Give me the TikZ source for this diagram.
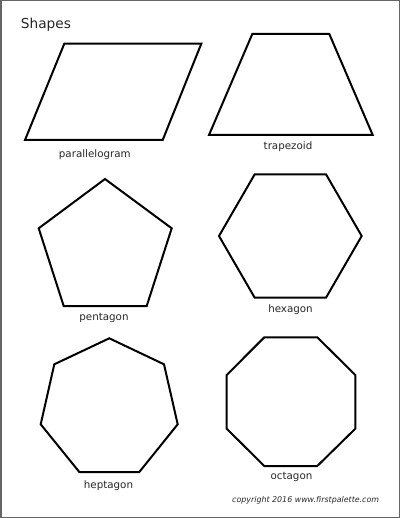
\documentclass[tikz,border=0pt]{standalone}
\usepackage{fontspec}
\setmainfont{DejaVu Sans}
\begin{document}
\begin{tikzpicture}[x=1pt,y=-1pt,
  shapeline/.style={draw=black,line width=2pt,line join=miter},
  label/.style={inner sep=0pt,anchor=base,font=\fontsize{10.3}{12}\selectfont,text=black!85},
  frame/.style={draw=black!60,line width=1.5pt}]
\useasboundingbox (0,0) rectangle (400,518);
\draw[frame] (0.75,0.75) rectangle (399.25,517.25);
\node[inner sep=0pt,anchor=base west,font=\fontsize{13.7}{16}\selectfont,text=black!85] (title) at (20.7,28.5) {Shapes};
% parallelogram
\draw[shapeline] (64.3,43.7) -- (201.3,43.7) -- (162.7,140) -- (25,140) -- cycle;
\node[label] (lpar) at (94.8,158) {parallelogram};
% trapezoid
\draw[shapeline] (252.3,34) -- (329.3,34) -- (372.7,135) -- (209,135) -- cycle;
\node[label] (ltrap) at (288,149.5) {trapezoid};
% pentagon
\draw[shapeline] (105,179) -- (171.7,228.3) -- (146.7,306) -- (63.7,306) -- (38.7,228.3) -- cycle;
\node[label] (lpent) at (104,320.5) {pentagon};
% hexagon
\draw[shapeline] (254.7,174.3) -- (326,174.3) -- (361.7,236) -- (326,297.7) -- (254.7,297.7) -- (219,236) -- cycle;
\node[label] (lhex) at (290.5,312.3) {hexagon};
% heptagon
\draw[shapeline] (109.3,338.3) -- (164,364.3) -- (177.7,424.3) -- (139.3,472) -- (79.3,472) -- (40.7,424.3) -- (54.3,364.3) -- cycle;
\node[label] (lhept) at (108.5,488.5) {heptagon};
% octagon
\draw[shapeline] (264.3,337.3) -- (317.3,337.3) -- (355.3,375) -- (355.3,428.7) -- (317.3,466) -- (264.3,466) -- (226.7,428.7) -- (226.7,375) -- cycle;
\node[label] (loct) at (291.5,479.5) {octagon};
\node[inner sep=0pt,anchor=base east,font=\fontsize{7.9}{9}\selectfont\itshape,text=black!85] (copy) at (379.3,502.7) {copyright 2016 www.firstpalette.com};
\end{tikzpicture}
\end{document}
